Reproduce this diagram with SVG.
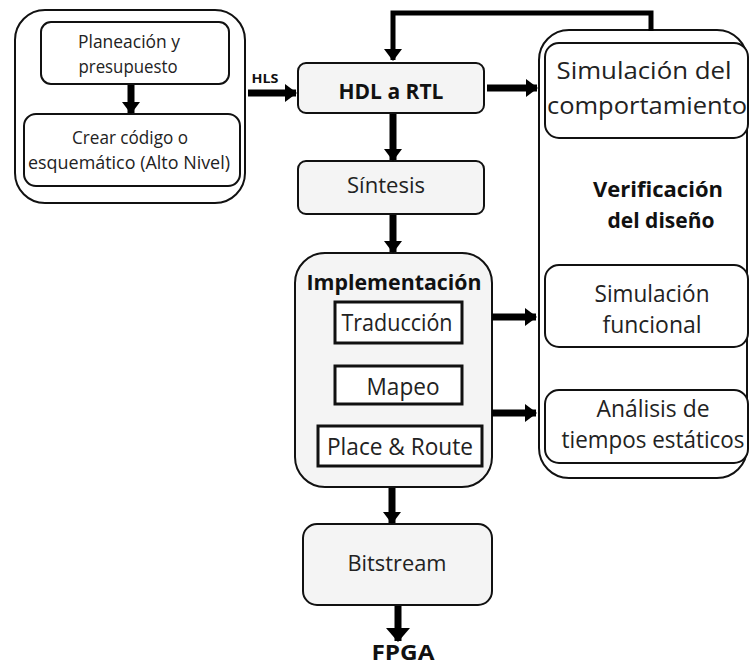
<svg xmlns="http://www.w3.org/2000/svg" width="749" height="667" viewBox="0 0 749 667">
  <defs>
    <style>
      .box { fill: #ffffff; stroke: #111; stroke-width: 2; }
      .gbox { fill: #f4f4f4; stroke: #111; stroke-width: 2; }
      .sq { fill: #ffffff; stroke: #111; stroke-width: 3; }
      .t { font-family: "Open Sans", "Liberation Sans", sans-serif; fill: #222; text-anchor: middle; }
      .b { font-weight: bold; fill: #111; }
      .arr { stroke: #000; stroke-width: 7; fill: none; }
      .fb { stroke: #000; stroke-width: 5; fill: none; }
    </style>
    <marker id="head" markerUnits="userSpaceOnUse" markerWidth="12" markerHeight="18" refX="11" refY="9" orient="auto">
      <path d="M0,0 L12,9 L0,18 Z" fill="#000"/>
    </marker>
    <marker id="bighead" markerUnits="userSpaceOnUse" markerWidth="14" markerHeight="24" refX="13" refY="12" orient="auto">
      <path d="M0,0 L14,12 L0,24 Z" fill="#000"/>
    </marker>
  </defs>

  <!-- Planning group -->
  <g id="planning">
    <rect x="15" y="10" width="230" height="193" rx="30" class="box" stroke-width="3"/>
    <g id="planeacion">
      <rect x="41" y="22" width="188" height="62" rx="10" class="box"/>
      <text class="t" x="129" y="48" font-size="18" textLength="102" lengthAdjust="spacingAndGlyphs">Planeación y</text>
      <text class="t" x="128" y="73" font-size="18" textLength="99" lengthAdjust="spacingAndGlyphs">presupuesto</text>
    </g>
    <g id="crear">
      <rect x="24" y="114" width="216" height="72" rx="12" class="box"/>
      <text class="t" x="130" y="144" font-size="18" textLength="116" lengthAdjust="spacingAndGlyphs">Crear código o</text>
      <text class="t" x="129" y="169" font-size="18" textLength="202" lengthAdjust="spacingAndGlyphs">esquemático (Alto Nivel)</text>
    </g>
  </g>

  <!-- Design flow -->
  <g id="hdl">
    <rect x="298" y="63" width="186" height="50" rx="8" class="gbox"/>
    <text class="t b" x="391" y="99" font-size="22" textLength="105" lengthAdjust="spacingAndGlyphs">HDL a RTL</text>
  </g>
  <g id="sintesis">
    <rect x="298" y="161" width="186" height="53" rx="8" class="gbox"/>
    <text class="t" x="386" y="193" font-size="22" textLength="78" lengthAdjust="spacingAndGlyphs">Síntesis</text>
  </g>
  <g id="implementacion">
    <rect x="295" y="253" width="197" height="234" rx="30" class="gbox"/>
    <text class="t b" x="394" y="290" font-size="21" textLength="175" lengthAdjust="spacingAndGlyphs">Implementación</text>
    <g id="traduccion">
      <rect x="335" y="302" width="127" height="41" class="sq"/>
      <text class="t" x="397" y="331" font-size="24" textLength="111" lengthAdjust="spacingAndGlyphs">Traducción</text>
    </g>
    <g id="mapeo">
      <rect x="335" y="366" width="127" height="38" class="sq"/>
      <text class="t" x="403" y="395" font-size="24" textLength="73" lengthAdjust="spacingAndGlyphs">Mapeo</text>
    </g>
    <g id="place-route">
      <rect x="318" y="426" width="164" height="40" class="sq"/>
      <text class="t" x="400" y="455" font-size="24" textLength="146" lengthAdjust="spacingAndGlyphs">Place &amp; Route</text>
    </g>
  </g>
  <g id="bitstream">
    <rect x="303" y="524" width="189" height="81" rx="14" class="gbox"/>
    <text class="t" x="397" y="571" font-size="22" textLength="99" lengthAdjust="spacingAndGlyphs">Bitstream</text>
  </g>
  <g id="fpga">
    <text class="t b" x="403" y="660" font-size="22" textLength="63" lengthAdjust="spacingAndGlyphs">FPGA</text>
  </g>

  <!-- Verification group -->
  <g id="verificacion">
    <rect x="539" y="30" width="208" height="448" rx="30" class="box" stroke-width="3"/>
    <text class="t b" x="658" y="197" font-size="21" textLength="130" lengthAdjust="spacingAndGlyphs">Verificación</text>
    <text class="t b" x="661" y="228" font-size="21" textLength="107" lengthAdjust="spacingAndGlyphs">del diseño</text>
    <g id="sim-comportamiento">
      <rect x="545" y="43" width="203" height="95" rx="14" class="box"/>
      <text class="t" x="644" y="79" font-size="24" textLength="175" lengthAdjust="spacingAndGlyphs">Simulación del</text>
      <text class="t" x="647" y="114" font-size="24" textLength="200" lengthAdjust="spacingAndGlyphs">comportamiento</text>
    </g>
    <g id="sim-funcional">
      <rect x="545" y="265" width="203" height="82" rx="14" class="box"/>
      <text class="t" x="652" y="302" font-size="23" textLength="115" lengthAdjust="spacingAndGlyphs">Simulación</text>
      <text class="t" x="652" y="333" font-size="23" textLength="99" lengthAdjust="spacingAndGlyphs">funcional</text>
    </g>
    <g id="analisis">
      <rect x="545" y="390" width="203" height="73" rx="14" class="box"/>
      <text class="t" x="653" y="417" font-size="23" textLength="113" lengthAdjust="spacingAndGlyphs">Análisis de</text>
      <text class="t" x="653" y="448" font-size="23" textLength="183" lengthAdjust="spacingAndGlyphs">tiempos estáticos</text>
    </g>
  </g>

  <!-- Connectors -->
  <g id="connectors">
    <text class="t b" x="265" y="83" font-size="13" textLength="27" lengthAdjust="spacingAndGlyphs">HLS</text>
    <line class="arr" x1="248" y1="93" x2="296" y2="93" stroke-width="8" marker-end="url(#head)"/>
    <line class="arr" x1="131" y1="85" x2="131" y2="113" marker-end="url(#head)"/>
    <line class="arr" x1="487" y1="88" x2="537" y2="88" marker-end="url(#head)"/>
    <polyline class="fb" points="651,31 651,13 393,13 393,60" marker-end="url(#head)"/>
    <line class="arr" x1="393" y1="114" x2="393" y2="160" marker-end="url(#head)"/>
    <line class="arr" x1="393" y1="215" x2="393" y2="252" marker-end="url(#head)"/>
    <line class="arr" x1="492" y1="317" x2="536" y2="317" marker-end="url(#head)"/>
    <line class="arr" x1="492" y1="413" x2="536" y2="413" marker-end="url(#head)"/>
    <line class="arr" x1="392" y1="488" x2="392" y2="523" stroke-width="9" marker-end="url(#head)"/>
    <line class="arr" x1="398" y1="606" x2="398" y2="641" stroke-width="11" marker-end="url(#bighead)"/>
  </g>
</svg>
